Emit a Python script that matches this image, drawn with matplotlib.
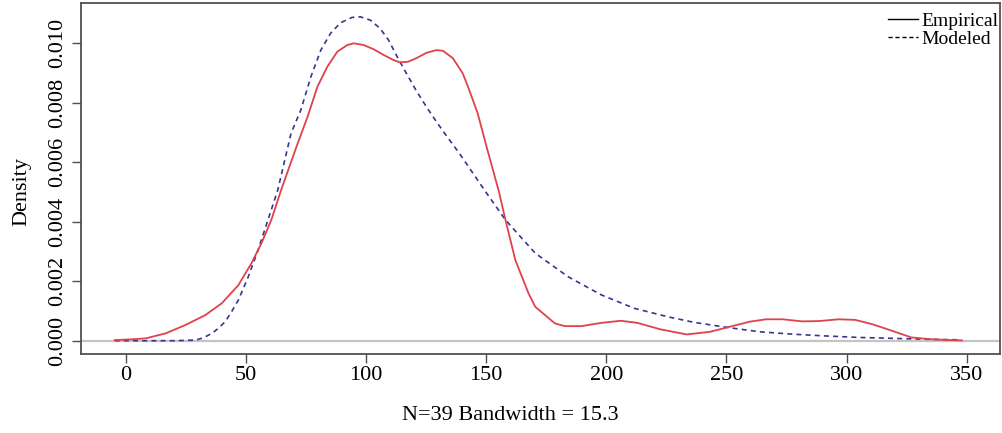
import matplotlib.pyplot as plt
from matplotlib.lines import Line2D

# values
emp_x = [-4.7, 3.0, 8.3, 16.6, 24.8, 33.0, 39.9, 46.8, 52.2, 56.4, 60.5, 64.6,
         71.5, 75.6, 79.7, 83.8, 88.0, 92.1, 94.8, 99.0, 103.1, 107.2, 111.3,
         114.1, 117.5, 120.9, 125.1, 129.2, 131.9, 136.1, 140.2, 142.9, 146.4,
         150.5, 155.3, 158.0, 162.1, 167.6, 170.4, 174.5, 178.6, 182.7, 189.6,
         197.9, 206.1, 212.9, 222.6, 233.5, 243.2, 251.4, 259.7, 266.5, 273.4,
         281.6, 288.5, 296.7, 303.6, 310.5, 318.7, 327.0, 335.2, 343.5, 348.0]
emp_y = [0.00002, 0.00005, 0.00008, 0.00025, 0.00053, 0.00086, 0.00126, 0.00187,
         0.00260, 0.00328, 0.00406, 0.00507, 0.00664, 0.00753, 0.00854, 0.00921,
         0.00972, 0.00994, 0.01000, 0.00994, 0.00980, 0.00961, 0.00944, 0.00936,
         0.00938, 0.00950, 0.00968, 0.00977, 0.00975, 0.00950, 0.00899, 0.00843,
         0.00765, 0.00641, 0.00500, 0.00406, 0.00271, 0.00159, 0.00114, 0.00086,
         0.00058, 0.00049, 0.00049, 0.00060, 0.00067, 0.00060, 0.00038, 0.00021,
         0.00030, 0.00047, 0.00064, 0.00072, 0.00072, 0.00065, 0.00066, 0.00072,
         0.00070, 0.00056, 0.00034, 0.00011, 0.00005, 0.00002, 0.00001]

mod_x = [-4.7, 10.0, 20.0, 28.9, 32.3, 35.8, 38.5, 41.3, 44.0, 46.8, 50.9, 55.0,
         59.1, 63.2, 68.7, 72.8, 77.0, 81.1, 85.2, 89.3, 94.1, 97.6, 101.7,
         105.8, 109.3, 112.7, 116.8, 120.9, 125.1, 129.2, 133.3, 138.8, 149.8,
         158.0, 170.4, 184.1, 197.9, 211.6, 225.3, 236.3, 250.0, 263.8, 277.5,
         291.2, 305.0, 318.7, 332.4, 346.9]
mod_y = [0.0, 0.0, 0.0, 0.00002, 0.00010, 0.00025, 0.00042, 0.00064, 0.00098,
         0.00137, 0.00215, 0.00305, 0.00406, 0.00507, 0.00697, 0.00776, 0.00888,
         0.00977, 0.01034, 0.01069, 0.01087, 0.01089, 0.01078, 0.01050, 0.01011,
         0.00958, 0.00898, 0.00840, 0.00786, 0.00737, 0.00690, 0.00630, 0.00500,
         0.00406, 0.00294, 0.00215, 0.00154, 0.00109, 0.00081, 0.00062, 0.00045,
         0.00030, 0.00022, 0.00016, 0.00011, 0.00008, 0.00005, 0.00003]

x_ticks = [0, 50, 100, 150, 200, 250, 300, 350]
y_ticks = [0.000, 0.002, 0.004, 0.006, 0.008, 0.010]
series_names = ["Empirical", "Modeled"]

plt.rcParams["font.family"] = ["Liberation Serif", "DejaVu Serif"]

fig = plt.figure(figsize=(10.02, 4.33), dpi=100)
ax = fig.add_axes([80.5 / 1002, 1 - 354 / 433, (1000 - 80.5) / 1002, 351 / 433])

ax.axhline(0, color="#c4c4c4", lw=1.6, zorder=1)
ax.plot(emp_x, emp_y, color="#e0414b", lw=1.3, zorder=3)
ax.plot(mod_x, mod_y, color="#353590", lw=1.2, ls=(0, (3, 2.5)), zorder=2)

ax.set_xlim(-18.95, 363.9)
ax.set_ylim(-0.000447, 0.011355)

ax.set_xticks(x_ticks)
ax.set_xticklabels([str(t) for t in x_ticks])
ax.set_yticks(y_ticks)
ax.set_yticklabels(["%.3f" % t for t in y_ticks], rotation=90, va="center")
ax.tick_params(axis="both", direction="out", length=6.5, width=1.0,
               color="#505050", labelsize=16)
ax.tick_params(axis="x", pad=2)
ax.tick_params(axis="y", pad=3)

for s in ax.spines.values():
    s.set_color("#505050")
    s.set_linewidth(1.3)

fig.text(510 / 1002, 1 - 416 / 433, "N=39 Bandwidth = 15.3", fontsize=16,
         ha="center", va="center")
fig.text(22 / 1002, 1 - 192 / 433, "Density", fontsize=16, rotation=90,
         ha="center", va="center")

handles = [Line2D([], [], color="black", lw=1.0),
           Line2D([], [], color="black", lw=1.0, ls=(0, (3, 2)))]
fig.legend(handles, series_names, loc="upper right",
           bbox_to_anchor=(998 / 1002, 1 - 12 / 433), frameon=False,
           fontsize=14, handlelength=1.55, handletextpad=0.15,
           labelspacing=0.05, borderpad=0, borderaxespad=0)

fig.savefig("out.png", dpi=100)
